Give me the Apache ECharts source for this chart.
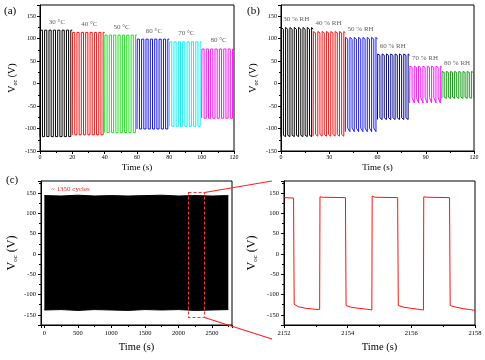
<!DOCTYPE html>
<html>
<head>
<meta charset="utf-8">
<script src="https://cdn.jsdelivr.net/npm/echarts@6/dist/echarts.min.js"></script>
<style>html,body{margin:0;padding:0;background:#fff;}#c{width:485px;height:360px;}</style>
</head>
<body>
<div id="c"></div>
<script>
// ---------- data ----------
// (a) temperature series
const aNames = ['30 °C', '40 °C', '50 °C', '60 °C', '70 °C', '80 °C'];
const aStart = [0, 20, 40, 60, 80, 100];
const aHigh  = [119, 114, 108, 99, 93, 77];
const aLow   = [-118, -114, -109, -101, -95, -77];
const aPeriod = [2.7, 2.7, 2.7, 2.7, 2.7, 2.7];
// (b) humidity series
const bNames = ['30 % RH', '40 % RH', '50 % RH', '60 % RH', '70 % RH', '80 % RH'];
const bStart = [0, 20, 40, 60, 80, 100];
const bHighStart = [125, 116, 103, 66, 39, 27];
const bHighEnd   = [121, 113, 99, 63, 36, 25];
const bLowStart  = [-115, -113, -99, -76, -31, -30];
const bLowEnd    = [-118, -117, -107, -80, -43, -33];
const bPeriod = [2.7, 2.7, 2.7, 2.7, 2.7, 2.6];
// (c) long-run envelope
const cTimes = [0, 250, 500, 750, 1000, 1250, 1500, 1750, 2000, 2250, 2500, 2745];
const cUpper = [144, 143, 145, 143, 144, 143, 144, 145, 143, 144, 143, 144];
const cLower = [-138, -137, -139, -137, -138, -139, -137, -138, -137, -139, -138, -137];
const cZoomWindow = [2140, 2375];
const cZoomRange = [-155, 154];
// (d) zoomed waveform
const dTimes = [2152.00, 2152.30, 2152.32, 2152.45, 2152.7, 2152.95, 2153.12, 2153.13, 2153.2, 2153.93, 2153.95, 2154.1, 2154.35, 2154.6, 2154.76, 2154.77, 2154.85, 2155.57, 2155.59, 2155.75, 2156.0, 2156.2, 2156.38, 2156.39, 2156.5, 2157.2, 2157.22, 2157.4, 2157.65, 2157.85, 2158.0];
const dValues = [139, 138, -124, -130, -134, -136, -137, 141, 140, 139, -127, -131, -134, -136, -138, 143, 140, 139, -127, -131, -134, -136, -138, 141, 140, 139, -127, -131, -135, -137, -139];

// ---------- styles ----------
const aColors = ['#000000', '#ff1010', '#22e022', '#1010ff', '#10f0f0', '#ff10ff'];
const bColors = ['#000000', '#ff1010', '#1a1aff', '#000090', '#ff10ff', '#119911'];
const FF = 'Liberation Serif';

function wave(t0, t1, hiS, hiE, loS, loE, period) {
  const pts = [[t0, loE]];
  let t = t0 + 0.15, high = true;
  while (t < t1 - 1e-6) {
    const te = Math.min(t + period / 2, t1);
    if (high) { pts.push([t, hiS], [te, hiE]); } else { pts.push([t, loS], [te, loE]); }
    t = te; high = !high;
  }
  return pts;
}

const series = [];
aNames.forEach((n, i) => {
  series.push({
    type: 'line', xAxisIndex: 0, yAxisIndex: 0, symbol: 'none', animation: false,
    lineStyle: { color: aColors[i], width: 1 },
    data: wave(aStart[i], aStart[i] + 20, aHigh[i], aHigh[i], aLow[i], aLow[i], aPeriod[i])
  });
});
bNames.forEach((n, i) => {
  series.push({
    type: 'line', xAxisIndex: 1, yAxisIndex: 1, symbol: 'none', animation: false,
    lineStyle: { color: bColors[i], width: 1 },
    data: wave(bStart[i], bStart[i] + 20, bHighStart[i], bHighEnd[i], bLowStart[i], bLowEnd[i], bPeriod[i])
  });
});
// segment labels
const labStyle = { show: true, position: 'top', distance: 4, fontFamily: FF, fontSize: 7, color: '#333' };
series.push({
  type: 'scatter', xAxisIndex: 0, yAxisIndex: 0, symbolSize: 0, animation: false, silent: true,
  label: Object.assign({}, labStyle, { formatter: p => p.data[2] }),
  data: aNames.map((n, i) => [aStart[i] + 10.5, aHigh[i] + 2, n])
});
series.push({
  type: 'scatter', xAxisIndex: 1, yAxisIndex: 1, symbolSize: 0, animation: false, silent: true,
  label: Object.assign({}, labStyle, { formatter: p => p.data[2] }),
  data: bNames.map((n, i) => [bStart[i] + 9.5, bHighStart[i] + 1, n])
});
// (c)
series.push({
  type: 'line', xAxisIndex: 2, yAxisIndex: 2, symbol: 'none', animation: false,
  lineStyle: { color: '#000', width: 1 }, areaStyle: { color: '#000', opacity: 1 },
  data: cTimes.map((t, i) => [t, cUpper[i]])
});
series.push({
  type: 'line', xAxisIndex: 2, yAxisIndex: 2, symbol: 'none', animation: false,
  lineStyle: { color: '#000', width: 1 }, areaStyle: { color: '#000', opacity: 1 },
  data: cTimes.map((t, i) => [t, cLower[i]])
});
// (d)
series.push({
  type: 'line', xAxisIndex: 3, yAxisIndex: 3, symbol: 'none', animation: false,
  lineStyle: { color: '#ff1010', width: 1 },
  data: dTimes.map((t, i) => [t, dValues[i]])
});

const grids = [
  { left: 40, top: 5, width: 194, height: 146 },
  { left: 281, top: 5, width: 193, height: 146 },
  { left: 41, top: 181, width: 191, height: 144 },
  { left: 284, top: 181, width: 191, height: 144 }
].map(g => Object.assign(g, { show: true, borderColor: '#000', borderWidth: 1, backgroundColor: '#fff' }));

function xAx(grid, min, max, interval, fs, margin, nameGap, nameFs, fmt, split) {
  const ax = {
    type: 'value', gridIndex: grid, min: min, max: max,
    name: 'Time (s)', nameLocation: 'middle', nameGap: nameGap,
    nameTextStyle: { fontFamily: FF, fontSize: nameFs, color: '#000' },
    axisLine: { show: true, onZero: false, lineStyle: { color: '#000', width: 1 } },
    axisTick: { show: true, inside: false, length: 3, lineStyle: { color: '#000' } },
    minorTick: { show: true, splitNumber: 2, length: 2, lineStyle: { color: '#000' } },
    splitLine: { show: false },
    axisLabel: { fontFamily: FF, fontSize: fs, color: '#000', margin: margin, formatter: fmt }
  };
  if (interval) ax.interval = interval; else ax.splitNumber = split;
  return ax;
}
function vocName(fs) {
  return {
    name: '{v|V}{s|oc}{v| (V)}',
    nameTextStyle: {
      fontFamily: FF, color: '#000',
      rich: {
        v: { fontFamily: FF, fontSize: fs, color: '#000', lineHeight: fs + 2 },
        s: { fontFamily: FF, fontSize: Math.round(fs * 0.6), color: '#000', padding: [Math.round(fs * 0.55), 0, 0, 0], lineHeight: fs + 2 }
      }
    }
  };
}
function yAx(grid, min, max, interval, fs, margin, nameGap, nameFs, split) {
  const ax = Object.assign({
    type: 'value', gridIndex: grid, min: min, max: max,
    nameLocation: 'middle', nameGap: nameGap, nameRotate: 90,
    axisLine: { show: true, onZero: false, lineStyle: { color: '#000', width: 1 } },
    axisTick: { show: true, inside: false, length: 3, lineStyle: { color: '#000' } },
    minorTick: { show: true, splitNumber: 2, length: 2, lineStyle: { color: '#000' } },
    splitLine: { show: false },
    axisLabel: { fontFamily: FF, fontSize: fs, color: '#000', margin: margin,
      formatter: v => (Math.abs(v % 50) < 1e-9 && v >= -150 && v <= 150) ? String(v) : '' }
  }, vocName(nameFs));
  if (interval) ax.interval = interval; else ax.splitNumber = split;
  return ax;
}

const option = {
  animation: false,
  backgroundColor: '#fff',
  textStyle: { fontFamily: FF },
  grid: grids,
  xAxis: [
    xAx(0, 0, 120, 20, 6, 3, 12, 9, v => String(v)),
    xAx(1, 0, 120, 30, 6, 3, 12, 9, v => String(v)),
    xAx(2, -50, 2800, null, 6.5, 5, 17, 10.5, v => (v >= 0 && v % 500 === 0 && v <= 2500) ? String(v) : '', 6),
    xAx(3, 2152, 2158, 2, 6.5, 5, 17, 10.5, v => String(v))
  ],
  yAxis: [
    yAx(0, -150, 175, 50, 6, 4, 22, 10),
    yAx(1, -150, 175, 50, 6, 4, 22, 10),
    yAx(2, -175, 180, null, 6.5, 5, 22, 12, 7),
    yAx(3, -175, 180, null, 6.5, 5, 25, 12, 7)
  ],
  series: series,
  graphic: [
    { type: 'text', left: 4, top: 6, style: { text: '(a)', font: '11px "Liberation Serif"', fill: '#000' } },
    { type: 'text', left: 247, top: 6, style: { text: '(b)', font: '11px "Liberation Serif"', fill: '#000' } },
    { type: 'text', left: 6, top: 175, style: { text: '(c)', font: '11px "Liberation Serif"', fill: '#000' } },
    { type: 'text', left: 51, top: 186, style: { text: '~ 1350 cycles', font: '7px "Liberation Serif"', fill: '#ff2020' } }
  ]
};

const chart = echarts.init(document.getElementById('c'), null, { renderer: 'canvas' });
chart.setOption(option);

// zoom window in (c) and connector lines to panel (d)
const rTL = chart.convertToPixel({ xAxisIndex: 2, yAxisIndex: 2 }, [cZoomWindow[0], cZoomRange[1]]);
const rBR = chart.convertToPixel({ xAxisIndex: 2, yAxisIndex: 2 }, [cZoomWindow[1], cZoomRange[0]]);
const dTL = chart.convertToPixel({ xAxisIndex: 3, yAxisIndex: 3 }, [2152, 180]);
const dBL = chart.convertToPixel({ xAxisIndex: 3, yAxisIndex: 3 }, [2152, -175]);
const rx = Math.round(rTL[0]) + 0.5, ry = Math.round(rTL[1]) + 0.5;
const rw = Math.round(rBR[0] - rTL[0]), rh = Math.round(rBR[1] - rTL[1]);
chart.setOption({
  graphic: option.graphic.concat([
    { type: 'rect', zlevel: 1, z: 100, shape: { x: rx, y: ry, width: rw, height: rh },
      style: { fill: 'none', stroke: '#ff3030', lineWidth: 1.2, lineDash: [3, 2] } },
    { type: 'line', zlevel: 1, z: 100, shape: { x1: rx + rw, y1: ry, x2: dTL[0] - 12, y2: dTL[1] }, style: { stroke: '#ff2020', lineWidth: 1.2 } },
    { type: 'line', zlevel: 1, z: 100, shape: { x1: rx + rw, y1: ry + rh, x2: dBL[0] - 12, y2: dBL[1] + 14 }, style: { stroke: '#ff2020', lineWidth: 1.2 } }
  ])
});
</script>
</body>
</html>
